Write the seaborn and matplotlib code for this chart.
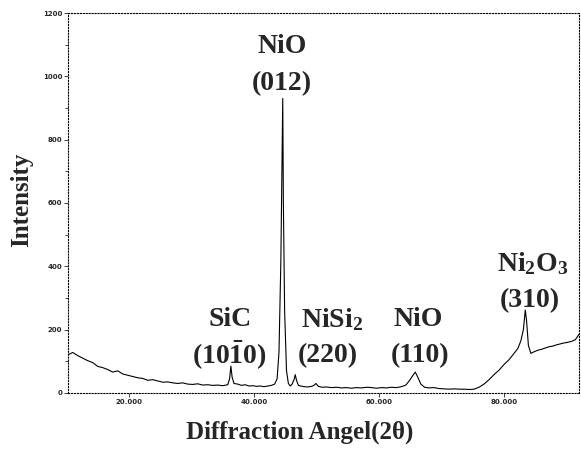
import numpy as np
import pandas as pd
import seaborn as sns
import matplotlib
matplotlib.use('Agg')
import matplotlib.pyplot as plt
from matplotlib.ticker import MultipleLocator

two_theta = [10.2, 11.0, 11.8, 12.6, 13.4, 14.2, 15.0, 15.8, 16.6, 17.4, 18.2, 19.0, 19.8,
             20.6, 21.4, 22.2, 23.0, 23.8, 24.6, 25.4, 26.2, 27.0, 27.8, 28.6, 29.4, 30.2,
             31.0, 31.8, 32.6, 33.4, 34.2, 35.0, 35.8, 36.1, 36.3, 36.5, 36.8, 37.4, 38.0,
             38.6, 39.2, 39.8, 40.4, 41.0, 41.6, 42.2, 42.8, 43.3, 43.7, 44.0, 44.3, 44.5,
             44.6, 44.7, 44.9, 45.2, 45.5, 45.8, 46.1, 46.4, 46.6, 46.8, 47.1, 47.5, 48.0,
             48.6, 49.2, 49.6, 49.9, 50.3, 50.9, 51.6, 52.4, 53.2, 54.0, 54.8, 55.6, 56.4,
             57.2, 58.0, 58.8, 59.6, 60.4, 61.2, 62.0, 62.8, 63.6, 64.3, 64.9, 65.4, 65.8,
             66.2, 66.7, 67.3, 68.0, 68.8, 69.6, 70.4, 71.2, 72.0, 72.8, 73.6, 74.4, 75.2,
             76.0, 76.8, 77.6, 78.4, 79.2, 80.0, 80.8, 81.6, 82.2, 82.7, 83.1, 83.4, 83.6,
             83.9, 84.3, 84.8, 85.4, 86.0, 86.6, 87.2, 87.8, 88.4, 89.0, 89.6, 90.2, 90.8,
             91.4, 92.0]
intensity = [120, 128, 118, 110, 102, 96, 84, 80, 74, 66, 70, 60, 56,
             52, 48, 46, 40, 42, 38, 34, 35, 32, 30, 32, 28, 27,
             29, 25, 26, 24, 25, 23, 26, 45, 85, 50, 30, 28, 24,
             26, 22, 23, 21, 22, 20, 22, 24, 28, 45, 130, 420, 760,
             930, 600, 260, 70, 30, 22, 28, 42, 58, 40, 24, 22, 20,
             19, 21, 24, 30, 21, 18, 19, 17, 18, 16, 17, 15, 17,
             16, 18, 17, 15, 17, 16, 18, 17, 20, 25, 40, 55, 66,
             50, 28, 18, 16, 17, 14, 13, 12, 13, 12, 12, 11, 12,
             18, 28, 42, 58, 72, 90, 105, 125, 140, 165, 200, 262, 230,
             150, 125, 130, 135, 138, 142, 146, 148, 152, 155, 158, 160, 163,
             168, 185]

x_ticks = [20, 40, 60, 80]
x_tick_labels = ['20.000', '40.000', '60.000', '80.000']
y_ticks = [0, 200, 400, 600, 800, 1000, 1200]

# peak labels: phase name line and Miller index line
phase_names = ['NiO', 'SiC', 'NiSi$_2$', 'NiO', 'Ni$_2$O$_3$']
phase_x = [44.5, 36.2, 52.5, 66.2, 84.5]
phase_y = [1095, 232, 232, 232, 410]
hkl_names = ['(012)', '(10$\\bar{1}$0)', '(220)', '(110)', '(310)']
hkl_x = [44.5, 36.1, 51.8, 66.6, 84.2]
hkl_y = [978, 118, 118, 118, 292]

df = pd.DataFrame({'two_theta': two_theta, 'intensity': intensity})

sns.set_style('white')
plt.rcParams['mathtext.fontset'] = 'custom'
plt.rcParams['mathtext.rm'] = 'Liberation Serif:bold'
plt.rcParams['mathtext.it'] = 'Liberation Serif:bold'
plt.rcParams['mathtext.bf'] = 'Liberation Serif:bold'
plt.rcParams['mathtext.default'] = 'rm'
serif = ['Liberation Serif', 'DejaVu Serif']

fig = plt.figure(figsize=(5.81, 4.53), dpi=100)
ax = fig.add_axes([0.117, 0.1325, 0.8796, 0.8388])
sns.lineplot(x='two_theta', y='intensity', data=df, color='black', lw=0.8, ax=ax)

ax.set_xlim(10.24, 92)
ax.set_ylim(0, 1200)
ax.set_xticks(x_ticks)
ax.set_xticklabels(x_tick_labels)
ax.set_yticks(y_ticks)
ax.yaxis.set_minor_locator(MultipleLocator(100))
ax.tick_params(axis='both', which='major', labelsize=5, length=3, width=0.6,
               direction='out', left=True, bottom=True, pad=1)
ax.tick_params(axis='y', which='minor', length=2, width=0.6, left=True)
for lbl in ax.get_xticklabels() + ax.get_yticklabels():
    lbl.set_fontweight('bold')

for side in ['left', 'right', 'top', 'bottom']:
    ax.spines[side].set_linestyle(':')
    ax.spines[side].set_linewidth(0.8)
    ax.spines[side].set_color('black')

for text, tx, ty in zip(phase_names, phase_x, phase_y):
    ax.text(tx, ty, text, ha='center', va='center', fontsize=20, fontweight='bold', family=serif)
for text, tx, ty in zip(hkl_names, hkl_x, hkl_y):
    ax.text(tx, ty, text, ha='center', va='center', fontsize=20, fontweight='bold', family=serif)

ax.set_xlabel('Diffraction Angel(2θ)', fontsize=18, fontweight='bold', family=serif)
ax.set_ylabel('Intensity', fontsize=18, fontweight='bold', family=serif)
ax.xaxis.set_label_coords(0.454, -0.103)
ax.yaxis.set_label_coords(-0.09, 0.508)
ax.xaxis.label.set_va('center')
ax.yaxis.label.set_va('center')

plt.savefig('out.png', dpi=100)
